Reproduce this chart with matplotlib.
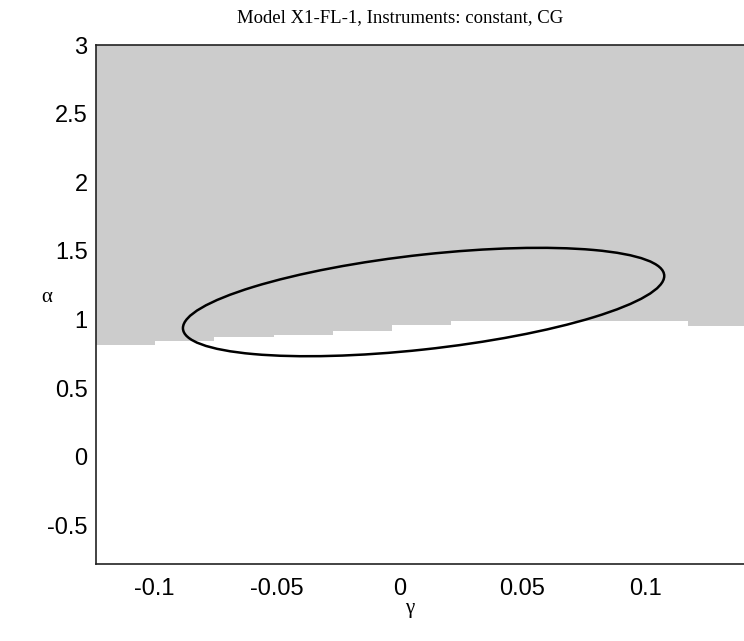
"""Confidence ellipse over the identified region (Model X1-FL-1)."""
import matplotlib
matplotlib.use("Agg")
import matplotlib.pyplot as plt
import numpy as np
from matplotlib.patches import Circle
from matplotlib.transforms import Affine2D

# gamma grid cells and lower edge of the shaded region in each cell
cell_edges = [-0.1236, -0.0995, -0.0754, -0.0513, -0.0272, -0.0031,
              0.0210, 0.0451, 0.0692, 0.0933, 0.1174, 0.1415]
alpha_lower = [0.817, 0.846, 0.871, 0.890, 0.914, 0.963,
               0.988, 0.988, 0.988, 0.988, 0.951]

# ellipse: centre, half-width in gamma, alpha shift at gamma extreme, alpha half-height term
ell_center = (0.0098, 1.128)
ell_matrix = [[0.098, 0.0], [0.190, 0.346]]

xticks = [-0.1, -0.05, 0, 0.05, 0.1]
xticklabels = ["-0.1", "-0.05", "0", "0.05", "0.1"]
yticks = [-0.5, 0, 0.5, 1, 1.5, 2, 2.5, 3]
yticklabels = ["-0.5", "0", "0.5", "1", "1.5", "2", "2.5", "3"]

W, H = 744, 641
fig = plt.figure(figsize=(W / 100, H / 100), dpi=100)
ax = fig.add_axes([96 / W, 1 - 564 / H, (747 - 96) / W, (564 - 45) / H])

ax.stairs(alpha_lower, cell_edges, baseline=3, fill=True, color="#cccccc", lw=0)

m = ell_matrix
tr = Affine2D(np.array([[m[0][0], m[0][1], ell_center[0]],
                        [m[1][0], m[1][1], ell_center[1]],
                        [0, 0, 1]]))
ax.add_patch(Circle((0, 0), 1, fill=False, ec="black", lw=1.8,
                    transform=tr + ax.transData))

ax.set_xlim(cell_edges[0], cell_edges[-1])
ax.set_ylim(-0.78, 3)
ax.set_xticks(xticks, xticklabels)
ax.set_yticks(yticks, yticklabels)
ax.tick_params(length=0, labelsize=17)
ax.tick_params(axis="x", pad=10)
ax.tick_params(axis="y", pad=6)
for lab in ax.get_xticklabels() + ax.get_yticklabels():
    lab.set_family("Liberation Sans")
for s in ax.spines.values():
    s.set_linewidth(1.2)
    s.set_color("#222222")

fig.text(400 / W, 1 - 18 / H, "Model X1-FL-1, Instruments: constant, CG",
         ha="center", va="center", family="Liberation Serif", fontsize=13.5)
fig.text(410 / W, 1 - 608 / H, "γ", ha="center", va="center",
         family="Liberation Serif", fontsize=15)
fig.text(47 / W, 1 - 298 / H, "α", ha="center", va="center",
         family="Liberation Serif", fontsize=15)

fig.savefig("out.png", dpi=100)
